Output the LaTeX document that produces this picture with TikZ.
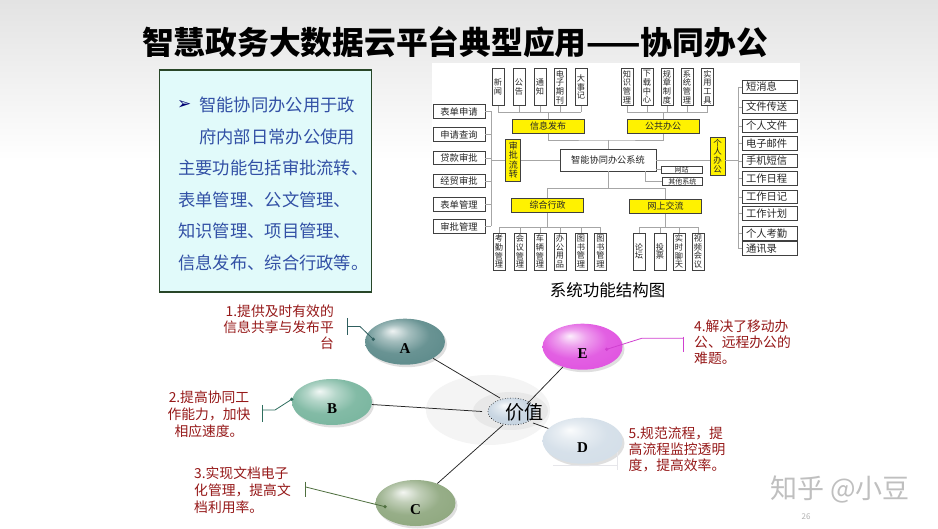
\documentclass[tikz,border=0pt]{standalone}
\usepackage{fontspec}
\setmainfont{Noto Sans CJK SC}
\newfontfamily\dejavu{DejaVu Sans}
\newfontfamily\lserif{Liberation Serif}
\usetikzlibrary{shapes.geometric,shadows,calc}
\definecolor{tblue}{RGB}{50,80,165}
\definecolor{tbord}{RGB}{40,70,40}
\definecolor{tfill}{RGB}{225,250,250}
\definecolor{labred}{RGB}{150,25,25}
\definecolor{cA}{HTML}{5C8A8A}
\definecolor{cB}{HTML}{78B59E}
\definecolor{cC}{HTML}{8EA77E}
\definecolor{cE}{HTML}{E052E0}
\definecolor{cD}{HTML}{D3DEE8}
\definecolor{cV}{HTML}{C5D3E0}
\definecolor{kA}{HTML}{2F5F5F}
\definecolor{kB}{HTML}{2E6E5E}
\definecolor{kC}{HTML}{4F6F3F}
\definecolor{kE}{HTML}{D040D0}
\colorlet{gcol}{gray}
\pgfdeclareradialshading[gcol]{gloss}{\pgfqpoint{-8bp}{12bp}}{%
 color(0bp)=(gcol!10!white); color(9bp)=(gcol!55!white); color(20bp)=(gcol!92!white);
 color(34bp)=(gcol); color(42bp)=(gcol!85!black); color(50bp)=(gcol!72!black)}
\tikzset{
 vbox/.style={draw=black!75, fill=white, line width=0.7pt, minimum width=12pt, minimum height=37pt,
   inner sep=0pt, align=center, text=black!85, font=\fontsize{8.2}{8.7}\selectfont},
 lbox/.style={draw=black!75, fill=white, line width=0.7pt, minimum width=52pt, minimum height=13.5pt,
   inner sep=0pt, text=black!85, font=\fontsize{9.3}{10}\selectfont},
 rbox/.style={draw=black!75, fill=white, line width=0.7pt, minimum width=55pt, minimum height=13.5pt,
   inner xsep=4pt, inner ysep=0pt, text width=47pt, align=left, text=black!85, font=\fontsize{10.3}{11}\selectfont},
 ybox/.style={draw=black!75, fill=yellow, line width=0.7pt, minimum width=72pt, minimum height=14pt,
   inner sep=0pt, text=black!85, font=\fontsize{9}{10}\selectfont},
 yvbox/.style={draw=black!75, fill=yellow, line width=0.7pt, minimum width=15pt,
   inner sep=0pt, align=center, text=black!85},
 sbox/.style={draw=black!75, fill=white, line width=0.6pt, inner sep=0pt, text=black!85,
   font=\fontsize{7}{7}\selectfont},
 conn/.style={draw=black!35, line width=0.7pt},
 tline/.style={anchor=west, inner sep=0pt, text=tblue, font=\fontsize{17.3}{18}\selectfont},
 glossy/.style={ellipse, minimum width=80pt, minimum height=46pt, inner sep=0pt,
   /utils/exec={\colorlet{gcol}{#1}}, shading=gloss,
   drop shadow={opacity=0.25, shadow xshift=2pt, shadow yshift=-2.5pt}},
 letter/.style={inner sep=0pt, font=\lserif\bfseries\fontsize{15}{15}\selectfont},
 lab/.style={inner sep=0pt, text=labred},
 link/.style={draw=black!85, line width=0.75pt},
}
\begin{document}
\begin{tikzpicture}[x=1pt,y=-1pt]
\useasboundingbox (0,0) rectangle (938,529);
\fill[white] (0,0) rectangle (938,529);
\shade[top color=gray!22, bottom color=white] (0,0) rectangle (938,160);
% title
\node[font=\bfseries\fontsize{31.75}{32}\selectfont, inner sep=0pt] (title) at (455,42) {智慧政务大数据云平台典型应用——协同办公};
% text box
\node[draw=tbord, line width=1.8pt, fill=tfill, minimum width=212pt, minimum height=222pt, inner sep=0pt] (tbox) at (265.5,181) {};
\node[tline, text=blue!45!black, font=\dejavu\fontsize{17}{17}\selectfont] (tl0) at (177,105) {➢};
\node[tline] (tl1) at (199,105) {智能协同办公用于政};
\node[tline] (tl2) at (199,136.5) {府内部日常办公使用};
\node[tline] (tl3) at (178,168) {主要功能包括审批流转、};
\node[tline] (tl4) at (178,199.5) {表单管理、公文管理、};
\node[tline] (tl5) at (178,231) {知识管理、项目管理、};
\node[tline] (tl6) at (178,262.5) {信息发布、综合行政等。};
% structure diagram
\fill[white] (432,63) rectangle (800,272);
\coordinate (ty) at (0,112);
\coordinate (by) at (0,227);
\coordinate (lx) at (491,0);
\coordinate (rx) at (738,0);
\node[vbox] (t1) at (498,87) {新\\闻};
\node[vbox] (t2) at (519,87) {公\\告};
\node[vbox] (t3) at (540,87) {通\\知};
\node[vbox] (t4) at (560,87) {电\\子\\期\\刊};
\node[vbox] (t5) at (581,87) {大\\事\\记};
\node[vbox] (p1) at (627,87) {知\\识\\管\\理};
\node[vbox] (p2) at (647,87) {下\\载\\中\\心};
\node[vbox] (p3) at (667,87) {规\\章\\制\\度};
\node[vbox] (p4) at (687,87) {系\\统\\管\\理};
\node[vbox] (p5) at (707.5,87) {实\\用\\工\\具};
\node[ybox] (xinxi) at (548,126.3) {信息发布};
\node[ybox] (gonggong) at (663,126.5) {公共办公};
\node[ybox] (zonghe) at (547.5,205.5) {综合行政};
\node[ybox] (wangshang) at (665.5,206.5) {网上交流};
\node[draw=black!75, fill=white, line width=0.7pt, minimum width=96pt, minimum height=22pt, inner sep=0pt,
  text=black!85, font=\fontsize{9.2}{10}\selectfont] (sys) at (608,160) {智能协同办公系统};
\node[yvbox, minimum height=42pt, font=\fontsize{9}{9.6}\selectfont] (spl) at (513.3,160) {审\\批\\流\\转};
\node[yvbox, minimum height=38pt, font=\fontsize{8.5}{8.8}\selectfont] (geren) at (717.5,156) {个\\人\\办\\公};
\node[sbox, minimum width=41pt, minimum height=7.5pt] (ws) at (681.7,169.7) {网站};
\node[sbox, minimum width=40pt, minimum height=8pt] (qt) at (682.3,181.7) {其他系统};
\node[lbox] (lb1) at (459,111.5) {表单申请};
\node[lbox] (lb2) at (459,134.5) {申请查询};
\node[lbox] (lb3) at (459,158) {贷款审批};
\node[lbox] (lb4) at (459,181) {经贸审批};
\node[lbox] (lb5) at (459,204.5) {表单管理};
\node[lbox] (lb6) at (459,226.5) {审批管理};
\node[rbox] (rb1) at (769.5,87) {短消息};
\node[rbox] (rb2) at (769.5,107) {文件传送};
\node[rbox] (rb3) at (769.5,126) {个人文件};
\node[rbox] (rb4) at (769.5,143.5) {电子邮件};
\node[rbox] (rb5) at (769.5,161) {手机短信};
\node[rbox] (rb6) at (769.5,178.5) {工作日程};
\node[rbox] (rb7) at (769.5,197) {工作日记};
\node[rbox] (rb8) at (769.5,213.5) {工作计划};
\node[rbox] (rb9) at (769.5,233.5) {个人考勤};
\node[rbox] (rb10) at (769.5,248.5) {通讯录};
\node[vbox] (z1) at (499,251.5) {考\\勤\\管\\理};
\node[vbox] (z2) at (520,251.5) {会\\议\\管\\理};
\node[vbox] (z3) at (540,251.5) {车\\辆\\管\\理};
\node[vbox] (z4) at (560,251.5) {办\\公\\用\\品};
\node[vbox] (z5) at (581,251.5) {图\\书\\管\\理};
\node[vbox] (z6) at (600.5,251.5) {图\\书\\管\\理};
\node[vbox] (w1) at (639,251.5) {论\\坛};
\node[vbox] (w2) at (660,251.5) {投\\票};
\node[vbox] (w3) at (679,251.5) {实\\时\\聊\\天};
\node[vbox] (w4) at (698,251.5) {视\\频\\会\\议};
% structure connectors
\draw[conn] (t1.south |- ty) -- (t5.south |- ty);
\foreach \n in {t1,t2,t3,t4,t5,p1,p2,p3,p4,p5} \draw[conn] (\n.south) -- (\n.south |- ty);
\draw[conn] (p1.south |- ty) -- (p5.south |- ty);
\draw[conn] (xinxi.north) -- (xinxi.north |- ty);
\draw[conn] (gonggong.north) -- (gonggong.north |- ty);
\coordinate (bus1) at (608,140);
\coordinate (bus2) at (608,188.5);
\draw[conn] (xinxi.south) |- (bus1) -| (gonggong.south);
\draw[conn] (bus1) -- (sys.north);
\draw[conn] (zonghe.north) |- (bus2) -| (wangshang.north);
\draw[conn] (bus2) -- (sys.south);
\draw[conn] (spl) -- (sys);
\draw[conn] ([xshift=37pt]sys.south) |- (qt.west);
\draw[conn] (sys.east |- ws.west) -- (ws.west);
\draw[conn] (sys.east) -- (sys.east -| geren.west);
\draw[conn] (sys.east -| geren.east) -- (sys.east -| rx);
\draw[conn] (rb1.west -| rx) -- (rb10.west -| rx);
\foreach \n in {rb1,rb2,rb3,rb4,rb5,rb6,rb7,rb8,rb9,rb10} \draw[conn] (\n.west) -- (\n.west -| rx);
\draw[conn] (lb1.east -| lx) -- (lb6.east -| lx);
\foreach \n in {lb1,lb2,lb3,lb4,lb5,lb6} \draw[conn] (\n.east) -- (\n.east -| lx);
\draw[conn] (spl.west -| lx) -- (spl.west);
\draw[conn] (zonghe.south) -- (zonghe.south |- by);
\draw[conn] (wangshang.south) -- (wangshang.south |- by);
\draw[conn] (z1.north |- by) -- (z6.north |- by);
\draw[conn] (w1.north |- by) -- (w4.north |- by);
\foreach \n in {z1,z2,z3,z4,z5,z6,w1,w2,w3,w4} \draw[conn] (\n.north) -- (\n.north |- by);
\node[font=\fontsize{16.5}{17}\selectfont, inner sep=0pt] (cap) at (607.5,290) {系统功能结构图};
% value diagram
\node[ellipse, fill=gray!9, minimum width=124pt, minimum height=70pt, inner sep=0pt] (halo) at (488,410) {};
\node[ellipse, fill=gray!18, minimum width=75pt, minimum height=38pt, inner sep=0pt] (halo2) at (510.5,411) {};
\node[ellipse, minimum width=48pt, minimum height=27pt, inner sep=0pt, /utils/exec={\colorlet{gcol}{cV}},
  shading=gloss, draw=black, dotted, line width=0.6pt] (val) at (512,411.5) {};
\node[glossy=cA] (A) at (405,341.7) {};
\node[glossy=cB] (B) at (332,402) {};
\node[glossy=cC] (C) at (415.5,503) {};
\node[glossy=cE] (E) at (582.5,346.7) {};
\node[glossy=cD] (D) at (582.5,440.7) {};
\foreach \n in {A,B,C,D,E} \node[letter] at ([yshift=-7pt]\n.center) {\n};
\coordinate (vA) at (500,398);
\coordinate (vB) at (482,411.5);
\coordinate (vC) at (503,425);
\coordinate (vE) at (527,404);
\coordinate (vD) at (533,423);
\draw[link] (A) -- (vA);
\draw[link] (B) -- (vB);
\draw[link] (C) -- (vC);
\draw[link] (E) -- (vE);
\draw[link] (vD) -- (D);
\node[font=\fontsize{19}{19}\selectfont, inner sep=0pt] (valt) at (524,412.5) {价值};
% labels
\node[lab, anchor=east, align=right, font=\fontsize{13.8}{16}\selectfont] (L1) at (334,327) {1.提供及时有效的\\信息共享与发布平\\台};
\node[lab, align=center, font=\fontsize{13.8}{17}\selectfont] (L2) at (209,414) {2.提高协同工\\作能力，加快\\相应速度。};
\node[lab, anchor=west, align=left, font=\fontsize{13.8}{17}\selectfont] (L3) at (194,490) {3.实现文档电子\\化管理，提高文\\档利用率。};
\node[lab, anchor=west, align=left, font=\fontsize{13.8}{16}\selectfont] (L4) at (694,342.5) {4.解决了移动办\\公、远程办公的\\难题。};
\node[lab, anchor=west, align=left, font=\fontsize{13.8}{16}\selectfont] (L5) at (628.5,449.3) {5.规范流程，提\\高流程监控透明\\度，提高效率。};
% callouts
\coordinate (a1) at (347,326.5); \coordinate (a2) at (360,326.5); \coordinate (a3) at (373.3,339.3);
\draw[kA, line width=0.8pt] (347,318) -- (347,335);
\draw[kA, line width=0.8pt] (a1) -- (a2) -- (a3);
\fill[kA] (a3) circle[radius=1.8pt];
\coordinate (b1) at (262.3,410); \coordinate (b2) at (275,410); \coordinate (b3) at (291.7,399.3);
\draw[kB, line width=0.8pt] (262.3,405) -- (262.3,421.7);
\draw[kB, line width=0.8pt] (b1) -- (b2) -- (b3);
\fill[kB] (b3) circle[radius=1.8pt];
\coordinate (c1) at (305.7,487); \coordinate (c3) at (385,506.7);
\draw[kC, line width=0.8pt] (305.7,481.7) -- (305.7,496.7);
\draw[kC, line width=0.8pt] (c1) -- (c3);
\fill[kC] (c3) circle[radius=1.8pt];
\coordinate (e1) at (683.3,338.3); \coordinate (e2) at (641.7,338.3); \coordinate (e3) at (606.7,349.3);
\draw[kE, line width=0.8pt] (683.3,336.7) -- (683.3,351.7);
\draw[kE, line width=0.8pt] (e1) -- (e2) -- (e3);
\fill[kE] (e3) circle[radius=1.8pt];
\coordinate (d1) at (553,465); \coordinate (d2) at (617,465);
\draw[blue!8!gray!18, line width=0.8pt] (617,452) -- (617,470);
\draw[blue!8!gray!18, line width=0.8pt] (d1) -- (d2);
% watermark
\node[text=gray!50, font=\fontsize{27}{27}\selectfont, inner sep=0pt] (wm) at (840,489) {知乎 @小豆};
\node[text=gray!60, font=\fontsize{8}{8}\selectfont, inner sep=0pt] (pg) at (806,517) {26};
\end{tikzpicture}
\end{document}
